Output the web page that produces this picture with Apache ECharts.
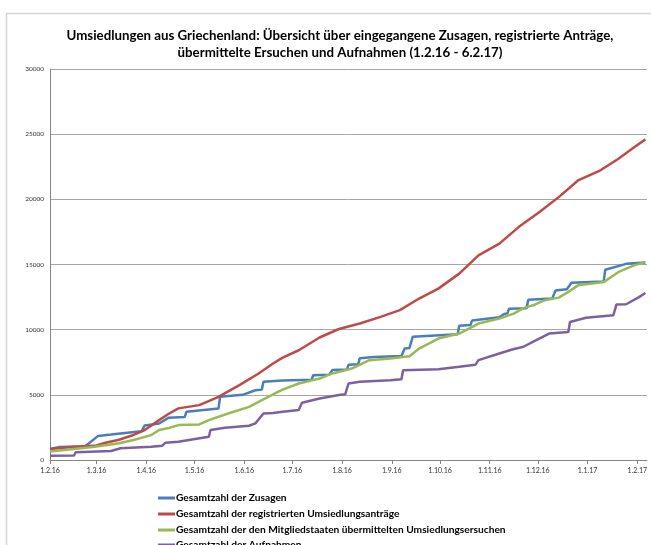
<!DOCTYPE html>
<html>
<head>
<meta charset="utf-8">
<script src="https://cdn.jsdelivr.net/npm/echarts@6/dist/echarts.min.js"></script>
<style>html,body{margin:0;padding:0;background:#fff}#c{width:651px;height:545px}</style>
</head>
<body>
<div id="c"></div>
<script>
// ---------- data ----------
const seriesNames = [
  'Gesamtzahl der Zusagen',
  'Gesamtzahl der registrierten Umsiedlungsanträge',
  'Gesamtzahl der den Mitgliedstaaten übermittelten Umsiedlungsersuchen',
  'Gesamtzahl der Aufnahmen'
];
const tickDates = ['2016-02-01','2016-03-01','2016-04-01','2016-05-01','2016-06-01','2016-07-01','2016-08-01','2016-09-01','2016-10-01','2016-11-01','2016-12-01','2017-01-01','2017-02-01'];
const tickLabels = ['1.2.16','1.3.16','1.4.16','1.5.16','1.6.16','1.7.16','1.8.16','1.9.16','1.10.16','1.11.16','1.12.16','1.1.17','1.2.17'];
const yTicks = [0, 5000, 10000, 15000, 20000, 25000, 30000];

const zusagenDates = ['2016-02-01','2016-02-07','2016-02-23','2016-02-24','2016-03-02','2016-03-10','2016-03-11','2016-03-29','2016-03-31','2016-04-09','2016-04-15','2016-04-25','2016-04-26','2016-05-16','2016-05-17','2016-05-31','2016-06-08','2016-06-12','2016-06-13','2016-06-25','2016-07-13','2016-07-14','2016-07-24','2016-07-26','2016-08-04','2016-08-05','2016-08-11','2016-08-12','2016-08-21','2016-09-07','2016-09-09','2016-09-12','2016-09-14','2016-10-12','2016-10-13','2016-10-20','2016-10-21','2016-11-07','2016-11-10','2016-11-12','2016-11-13','2016-11-24','2016-11-25','2016-12-10','2016-12-12','2016-12-19','2016-12-22','2017-01-11','2017-01-12','2017-01-25','2017-02-06'];
const zusagenValues = [850,1000,1050,1100,1850,1950,2100,2200,2650,2800,3250,3300,3700,3950,4850,5000,5350,5400,6000,6100,6150,6500,6550,6900,6950,7300,7350,7800,7900,7980,8550,8600,9450,9650,10300,10350,10700,10950,11200,11250,11600,11650,12300,12400,13000,13100,13600,13700,14600,15050,15150];

const antraegeDates = ['2016-02-01','2016-02-15','2016-03-01','2016-03-06','2016-03-15','2016-03-24','2016-03-31','2016-04-09','2016-04-15','2016-04-21','2016-05-04','2016-05-16','2016-05-29','2016-06-10','2016-06-19','2016-06-25','2016-07-05','2016-07-18','2016-07-30','2016-08-12','2016-08-25','2016-09-06','2016-09-18','2016-09-30','2016-10-13','2016-10-25','2016-11-07','2016-11-19','2016-12-02','2016-12-14','2016-12-26','2017-01-08','2017-01-20','2017-01-30','2017-02-06'];
const antraegeValues = [850,1000,1120,1300,1550,1920,2300,3060,3550,3960,4210,4850,5750,6640,7400,7850,8420,9400,10050,10470,10980,11500,12390,13150,14300,15700,16600,17870,19020,20170,21450,22160,23100,24000,24600];

const ersuchenDates = ['2016-02-01','2016-02-29','2016-03-15','2016-03-24','2016-04-04','2016-04-09','2016-04-15','2016-04-21','2016-05-04','2016-05-10','2016-05-22','2016-06-04','2016-06-16','2016-06-22','2016-06-25','2016-07-05','2016-07-18','2016-07-26','2016-08-07','2016-08-18','2016-08-31','2016-09-12','2016-09-18','2016-09-30','2016-10-13','2016-10-25','2016-11-07','2016-11-16','2016-11-22','2016-11-28','2016-12-05','2016-12-14','2016-12-20','2016-12-26','2017-01-11','2017-01-20','2017-01-30','2017-02-06'];
const ersuchenValues = [650,1020,1280,1530,1910,2300,2450,2680,2730,3060,3570,4080,4850,5230,5400,5870,6250,6640,7020,7660,7790,7960,8550,9320,9700,10470,10850,11230,11650,11870,12250,12460,12900,13400,13650,14410,14930,15200];

const aufnahmenDates = ['2016-02-01','2016-02-16','2016-02-17','2016-03-10','2016-03-16','2016-04-04','2016-04-11','2016-04-13','2016-04-21','2016-05-10','2016-05-11','2016-05-20','2016-06-04','2016-06-08','2016-06-13','2016-06-19','2016-06-25','2016-07-05','2016-07-07','2016-07-18','2016-07-30','2016-08-03','2016-08-05','2016-08-12','2016-08-31','2016-09-07','2016-09-08','2016-09-30','2016-10-13','2016-10-23','2016-10-25','2016-11-07','2016-11-15','2016-11-22','2016-11-30','2016-12-08','2016-12-20','2016-12-21','2016-12-31','2017-01-17','2017-01-19','2017-01-25','2017-02-02','2017-02-06'];
const aufnahmenValues = [330,340,600,690,900,1020,1100,1330,1400,1790,2300,2480,2630,2810,3570,3600,3700,3830,4390,4720,4980,5050,5870,6000,6120,6200,6890,6970,7150,7300,7660,8170,8480,8690,9190,9700,9820,10590,10920,11100,11940,11950,12500,12810];

const colors = ['#4A7EBB', '#BE4B48', '#98B954', '#7D60A0'];

// ---------- helpers ----------
const START = Date.UTC(2016, 1, 1);
function dayOf(s) {
  const p = s.split('-').map(Number);
  return Math.round((Date.UTC(p[0], p[1] - 1, p[2]) - START) / 86400000);
}
function pairs(dates, vals) { return dates.map((d, i) => [dayOf(d), vals[i]]); }
const tickDays = tickDates.map(dayOf);
const labelByDay = {};
tickDays.forEach((d, i) => { labelByDay[d] = tickLabels[i]; });

const FONT = 'Lato, "Open Sans", sans-serif';
const chart = echarts.init(document.getElementById('c'), null, { renderer: 'canvas' });

const allData = [
  pairs(zusagenDates, zusagenValues),
  pairs(antraegeDates, antraegeValues),
  pairs(ersuchenDates, ersuchenValues),
  pairs(aufnahmenDates, aufnahmenValues)
];

const legendTops = [488, 504, 520, 535];

chart.setOption({
  animation: false,
  backgroundColor: '#fff',
  color: colors,
  title: {
    text: 'Umsiedlungen aus Griechenland: Übersicht über eingegangene Zusagen, registrierte Anträge,\nübermittelte Ersuchen und Aufnahmen (1.2.16 - 6.2.17)',
    left: 335, top: 22, textAlign: 'center',
    textStyle: { fontFamily: FONT, fontSize: 13.3, fontWeight: 'bold', color: '#000', lineHeight: 17 }
  },
  graphic: [{
    type: 'rect', silent: true, z: -1,
    shape: { x: 6.5, y: 13.5, width: 700, height: 600 },
    style: { fill: 'none', stroke: '#d4d4d4', lineWidth: 1.5 }
  }],
  legend: seriesNames.map((n, i) => ({
    orient: 'vertical', left: 153, top: legendTops[i],
    itemWidth: 17, itemHeight: 3, itemGap: 0,
    icon: 'rect', selectedMode: false,
    textStyle: { fontFamily: FONT, fontSize: 10.2, fontWeight: 'bold', color: '#000', padding: [0, 0, 0, -4] },
    data: [n]
  })),
  grid: { left: 50, right: 4, top: 69, bottom: 85, containLabel: false },
  xAxis: {
    type: 'value', min: 0, max: 372,
    axisLine: { show: true, lineStyle: { color: '#868686', width: 1 } },
    axisTick: { show: true, customValues: tickDays, length: 4, lineStyle: { color: '#868686' } },
    axisLabel: {
      customValues: tickDays, margin: 7,
      fontFamily: FONT, fontSize: 7, color: '#333',
      formatter: v => labelByDay[Math.round(v)] || ''
    },
    splitLine: { show: false }
  },
  yAxis: {
    type: 'value', min: 0, max: 30000, interval: 5000,
    axisLine: { show: true, lineStyle: { color: '#868686', width: 1 } },
    axisTick: { show: false },
    axisLabel: { fontFamily: FONT, fontSize: 6.5, color: '#333', margin: 6, formatter: v => String(v) },
    splitLine: { show: true, lineStyle: { color: '#a6a6a6', width: 1 } }
  },
  series: allData.map((d, i) => ({
    name: seriesNames[i], type: 'line', data: d,
    showSymbol: false, symbol: 'none',
    lineStyle: { width: 2.5, color: colors[i] },
    itemStyle: { color: colors[i] },
    z: 2 + i
  }))
});
</script>
</body>
</html>
